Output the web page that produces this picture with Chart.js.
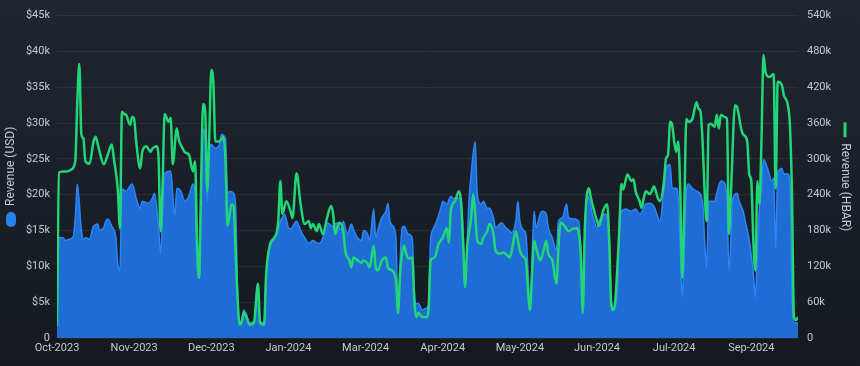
<!DOCTYPE html>
<html>
<head>
<meta charset="utf-8">
<script src="https://cdn.jsdelivr.net/npm/chart.js@4.4.1/dist/chart.umd.min.js"></script>
<style>
  html, body { margin: 0; padding: 0; background: #1a1f26; }
  #wrap { width: 860px; height: 366px; }
</style>
</head>
<body>
<div id="wrap"><canvas id="c" width="860" height="366"></canvas></div>
<script>
// Day index (0 = 1 Oct 2023 ... 365 = 30 Sep 2024)
const tickDays = [0, 38, 76, 114, 152, 190, 228, 266, 304, 342];
const tickLabels = ['Oct-2023','Nov-2023','Dec-2023','Jan-2024','Mar-2024','Apr-2024','May-2024','Jun-2024','Jul-2024','Sep-2024'];

// Revenue (USD), thousands of dollars
const usdDays = [0,1,3,4,6,8,9,10,12,13,14,16,18,20,21,23,24,25,27,29,30,31,32,34,37,39,41,42,45,47,48,50,51,53,56,58,59,61,63,65,67,68,69,70,71,72,73,74,75,76,78,80,81,83,84,85,87,88,89,90,91,92,93,95,97,99,100,102,103,105,108,109,110,111,112,114,115,118,120,122,124,126,129,131,133,136,138,140,141,143,145,146,148,150,151,153,154,156,157,158,160,162,163,164,166,167,168,169,170,171,173,175,176,177,178,180,182,183,184,185,187,189,190,192,194,195,197,199,200,201,203,204,206,207,209,210,212,213,215,216,219,221,222,224,226,227,228,230,231,232,233,235,236,238,239,241,242,244,246,247,249,251,252,255,257,258,259,260,261,264,266,267,270,272,273,274,276,277,278,280,283,285,287,289,290,292,294,295,297,299,300,302,303,305,306,307,308,309,310,311,313,315,318,319,320,321,324,325,327,329,330,331,333,335,336,338,339,341,343,344,345,346,347,348,350,352,353,354,355,357,358,360,361,362,363,365];
const usdValues = [1.8,14.0,14.0,13.6,13.8,14.1,16.8,21.5,15.0,13.8,14.0,13.8,15.6,15.9,15.0,15.4,16.3,16.6,15.6,14.0,10.1,9.4,20.8,20.5,21.5,19.5,18.1,19.1,18.8,19.5,20.2,15.6,11.8,22.9,23.3,17.0,20.9,20.5,19.1,19.8,21.5,19.8,9.4,8.3,20.5,29.2,27.4,19.1,26.0,27.0,26.5,27.0,28.4,27.8,20.1,20.5,20.2,18.4,5.3,2.1,2.5,3.9,3.5,2.1,2.4,7.6,2.4,2.1,9.0,12.6,14.5,15.0,16.3,16.8,17.3,15.4,15.2,16.3,15.0,14.0,13.2,13.6,13.2,14.0,16.1,15.6,16.1,15.0,16.3,14.5,15.9,15.2,14.0,13.6,15.0,14.5,13.6,18.0,14.0,15.0,16.8,17.7,18.8,16.3,15.4,13.6,3.5,10.8,15.4,15.6,14.5,14.0,6.6,4.8,4.8,3.9,4.2,4.6,13.6,15.0,16.3,18.1,19.1,18.7,19.8,19.5,19.5,19.5,15.0,8.0,19.5,22.9,27.4,20.1,18.7,19.1,18.1,18.1,16.8,15.4,16.1,15.4,15.2,14.7,16.3,19.1,16.3,15.0,14.5,9.4,4.3,17.7,15.4,17.3,17.7,17.3,15.4,14.0,12.2,16.3,16.8,18.7,16.8,16.6,16.3,12.2,3.9,15.0,20.1,17.0,15.4,16.3,17.3,14.5,5.3,3.9,6.6,16.3,17.7,18.0,17.7,18.0,17.3,18.1,18.7,18.8,18.4,17.7,16.3,20.9,23.7,24.2,20.9,20.9,19.5,12.2,5.7,12.2,20.5,21.5,20.9,20.5,19.1,13.6,9.8,19.1,19.1,20.2,21.9,21.5,19.1,9.4,19.5,20.2,19.1,17.7,16.3,13.6,9.0,5.7,12.6,18.1,20.9,24.9,23.7,21.9,22.3,12.6,22.9,23.7,22.9,22.9,21.9,6.6,2.1,2.1];

// Revenue (HBAR), thousands of HBAR
const hbarDays = [0,1,3,5,7,9,10,11,12,13,14,16,18,19,20,21,23,25,27,28,30,31,32,33,34,36,37,38,39,41,42,44,46,47,49,50,51,52,53,55,56,57,59,60,62,63,65,67,68,69,70,71,72,73,74,75,76,77,78,80,82,83,84,86,87,88,89,90,91,92,93,95,97,99,100,102,103,105,107,109,110,111,113,115,116,118,120,122,124,125,126,128,129,131,133,135,136,137,139,141,142,144,145,146,148,150,151,153,154,156,157,158,160,162,163,165,167,168,169,171,172,173,175,176,177,178,180,182,183,184,186,188,190,192,193,194,196,198,199,200,201,202,204,205,206,207,209,210,212,213,215,216,218,220,221,223,224,226,228,230,231,232,233,234,235,236,238,240,241,242,244,246,247,248,250,252,254,256,257,258,259,260,262,263,265,266,267,269,271,272,273,274,275,277,278,279,280,281,283,284,285,287,288,289,290,292,293,294,296,297,299,300,301,302,303,304,305,306,307,308,309,310,311,313,315,316,317,318,319,320,321,322,324,325,326,327,329,330,331,332,334,335,337,338,340,341,342,343,344,345,346,347,348,349,351,352,353,354,355,357,358,360,361,362,363,364,365];
const hbarValues = [20,277,279,279,282,296,395,459,341,334,296,292,329,337,326,312,291,307,324,301,246,184,379,375,374,357,370,366,329,284,312,321,312,317,321,304,179,254,375,362,369,291,351,332,317,311,307,279,296,163,101,263,392,379,246,337,449,429,329,329,337,296,188,224,221,146,63,22,27,43,38,22,25,91,25,22,105,158,168,196,263,208,229,213,201,276,224,191,196,184,191,179,191,174,201,221,208,174,193,179,146,130,118,135,130,126,130,125,118,155,118,113,130,135,118,113,96,42,108,155,141,133,135,63,35,42,35,35,47,130,135,158,168,184,160,213,229,246,229,163,85,151,201,241,208,163,158,168,179,191,174,146,141,143,141,135,146,179,146,135,130,80,47,108,163,151,130,151,163,141,130,91,151,193,188,179,183,184,176,141,42,184,251,234,208,196,188,213,224,163,58,47,63,184,258,249,263,274,263,266,246,229,218,234,246,241,246,254,234,229,263,301,307,362,357,329,312,329,246,101,218,367,362,367,395,384,379,329,246,196,357,359,354,374,351,374,370,367,174,246,390,387,351,341,329,274,263,163,113,263,224,329,474,445,437,440,442,251,429,424,407,390,357,246,35,30,35];

const TEXT = '#c4c9d1';
const FONT = 'Roboto';

const bgPlugin = {
  id: 'bg',
  beforeDraw(chart) {
    const { ctx, width, height } = chart;
    const g = ctx.createLinearGradient(0, 0, 0, height);
    g.addColorStop(0, '#202630');
    g.addColorStop(1, '#15191f');
    ctx.save();
    ctx.fillStyle = g;
    ctx.fillRect(0, 0, width, height);
    ctx.restore();
  }
};

function roundRect(ctx, x, y, w, h, r) {
  ctx.beginPath();
  ctx.moveTo(x + r, y);
  ctx.lineTo(x + w - r, y);
  ctx.arcTo(x + w, y, x + w, y + r, r);
  ctx.lineTo(x + w, y + h - r);
  ctx.arcTo(x + w, y + h, x + w - r, y + h, r);
  ctx.lineTo(x + r, y + h);
  ctx.arcTo(x, y + h, x, y + h - r, r);
  ctx.lineTo(x, y + r);
  ctx.arcTo(x, y, x + r, y, r);
  ctx.closePath();
}

const titlePlugin = {
  id: 'axisTitles',
  afterDraw(chart) {
    const { ctx, chartArea } = chart;
    const cy = (chartArea.top + chartArea.bottom) / 2;
    ctx.save();
    ctx.font = '12px ' + FONT;
    ctx.textBaseline = 'middle';
    ctx.textAlign = 'left';
    ctx.fillStyle = TEXT;

    // left title: marker + "Revenue (USD)" reading bottom-to-top
    const t1 = 'Revenue (USD)';
    const w1 = ctx.measureText(t1).width;
    const total1 = 15 + 6 + w1;
    ctx.save();
    ctx.translate(11, cy);
    ctx.rotate(-Math.PI / 2);
    ctx.fillStyle = 'rgb(43,128,240)';
    roundRect(ctx, -total1 / 2, -5, 15, 10, 5);
    ctx.fill();
    ctx.fillStyle = TEXT;
    ctx.fillText(t1, -total1 / 2 + 21, 0);
    ctx.restore();

    // right title: line marker + "Revenue (HBAR)" reading top-to-bottom
    const t2 = 'Revenue (HBAR)';
    const w2 = ctx.measureText(t2).width;
    const total2 = 15 + 6 + w2;
    ctx.save();
    ctx.translate(845, cy);
    ctx.rotate(Math.PI / 2);
    ctx.fillStyle = 'rgb(34,214,120)';
    ctx.fillRect(-total2 / 2, -1.5, 15, 3);
    ctx.fillStyle = TEXT;
    ctx.fillText(t2, -total2 / 2 + 21, 0);
    ctx.restore();

    ctx.restore();
  }
};

new Chart(document.getElementById('c'), {
  type: 'line',
  data: {
    datasets: [
      {
        label: 'Revenue (HBAR)',
        data: hbarDays.map((d, i) => ({ x: d, y: hbarValues[i] * 1000 })),
        yAxisID: 'y1',
        borderColor: 'rgb(34,214,120)',
        borderWidth: 2.5,
        pointRadius: 0,
        fill: false,
        cubicInterpolationMode: 'monotone',
        order: 0
      },
      {
        label: 'Revenue (USD)',
        data: usdDays.map((d, i) => ({ x: d, y: usdValues[i] * 1000 })),
        yAxisID: 'y',
        borderColor: 'rgb(44,134,248)',
        backgroundColor: 'rgb(30,108,212)',
        borderWidth: 1.5,
        pointRadius: 0,
        fill: 'origin',
        cubicInterpolationMode: 'monotone',
        order: 1
      }
    ]
  },
  options: {
    responsive: false,
    animation: false,
    devicePixelRatio: 1,
    layout: { padding: { top: 13, bottom: 0, left: 0, right: 0 } },
    plugins: { legend: { display: false }, tooltip: { enabled: false } },
    scales: {
      x: {
        type: 'linear',
        min: 0,
        max: 365,
        grid: { display: false, drawTicks: false },
        border: { display: false },
        afterBuildTicks: (s) => { s.ticks = tickDays.map(v => ({ value: v })); },
        afterFit: (s) => { s.height = 28; },
        ticks: {
          autoSkip: false,
          maxRotation: 0,
          padding: 4,
          color: TEXT,
          font: { family: FONT, size: 11 },
          callback: (v, i) => tickLabels[i]
        }
      },
      y: {
        position: 'left',
        min: 0,
        max: 45000,
        grid: { color: 'rgba(255,255,255,0.07)', drawTicks: false },
        border: { display: false },
        afterFit: (s) => { s.width = 57; },
        ticks: {
          stepSize: 5000,
          padding: 7,
          color: TEXT,
          font: { family: FONT, size: 11 },
          callback: (v) => v === 0 ? '0' : '$' + (v / 1000) + 'k'
        }
      },
      y1: {
        position: 'right',
        min: 0,
        max: 540000,
        grid: { display: false, drawTicks: false },
        border: { display: false },
        afterFit: (s) => { s.width = 62; },
        ticks: {
          stepSize: 60000,
          padding: 9,
          color: TEXT,
          font: { family: FONT, size: 11 },
          callback: (v) => v === 0 ? '0' : (v / 1000) + 'k'
        }
      }
    }
  },
  plugins: [bgPlugin, titlePlugin]
});
</script>
</body>
</html>
